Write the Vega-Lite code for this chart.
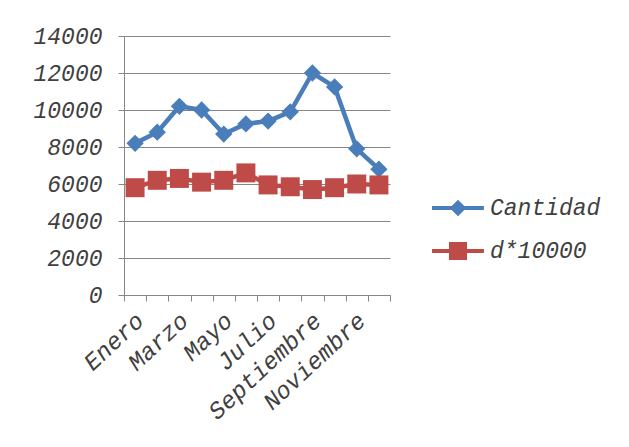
{
  "$schema": "https://vega.github.io/schema/vega-lite/v6.json",
  "width": 266,
  "height": 259,
  "autosize": {"type": "none"},
  "padding": {"left": 124, "top": 36, "right": 239, "bottom": 152},
  "background": "white",
  "data": {
    "values": [
      {"mes": "Enero", "serie": "Cantidad", "valor": 8200},
      {"mes": "Febrero", "serie": "Cantidad", "valor": 8800},
      {"mes": "Marzo", "serie": "Cantidad", "valor": 10200},
      {"mes": "Abril", "serie": "Cantidad", "valor": 10000},
      {"mes": "Mayo", "serie": "Cantidad", "valor": 8700},
      {"mes": "Junio", "serie": "Cantidad", "valor": 9250},
      {"mes": "Julio", "serie": "Cantidad", "valor": 9400},
      {"mes": "Agosto", "serie": "Cantidad", "valor": 9900},
      {"mes": "Septiembre", "serie": "Cantidad", "valor": 12000},
      {"mes": "Octubre", "serie": "Cantidad", "valor": 11250},
      {"mes": "Noviembre", "serie": "Cantidad", "valor": 7900},
      {"mes": "Diciembre", "serie": "Cantidad", "valor": 6800},
      {"mes": "Enero", "serie": "d*10000", "valor": 5800},
      {"mes": "Febrero", "serie": "d*10000", "valor": 6200},
      {"mes": "Marzo", "serie": "d*10000", "valor": 6300},
      {"mes": "Abril", "serie": "d*10000", "valor": 6100},
      {"mes": "Mayo", "serie": "d*10000", "valor": 6200},
      {"mes": "Junio", "serie": "d*10000", "valor": 6600},
      {"mes": "Julio", "serie": "d*10000", "valor": 5950},
      {"mes": "Agosto", "serie": "d*10000", "valor": 5850},
      {"mes": "Septiembre", "serie": "d*10000", "valor": 5700},
      {"mes": "Octubre", "serie": "d*10000", "valor": 5800},
      {"mes": "Noviembre", "serie": "d*10000", "valor": 6000},
      {"mes": "Diciembre", "serie": "d*10000", "valor": 5950}
    ]
  },
  "encoding": {
    "x": {
      "field": "mes",
      "type": "nominal",
      "sort": ["Enero", "Febrero", "Marzo", "Abril", "Mayo", "Junio", "Julio", "Agosto", "Septiembre", "Octubre", "Noviembre", "Diciembre"],
      "scale": {"type": "band", "paddingInner": 0, "paddingOuter": 0},
      "axis": {
        "title": null,
        "tickBand": "extent",
        "labelExpr": "indexof(['Enero','Marzo','Mayo','Julio','Septiembre','Noviembre'], datum.value) >= 0 ? datum.value : ''",
        "labelAngle": -43,
        "labelAlign": "right",
        "labelBaseline": "middle",
        "labelPadding": 16,
        "labelOffset": 5,
        "labelOverlap": false,
        "labelFontSize": 24,
        "tickSize": 6
      }
    },
    "y": {
      "field": "valor",
      "type": "quantitative",
      "scale": {"domain": [0, 14000], "nice": false},
      "axis": {
        "title": null,
        "values": [0, 2000, 4000, 6000, 8000, 10000, 12000, 14000],
        "format": "d",
        "grid": true,
        "tickSize": 6,
        "labelPadding": 16
      }
    },
    "color": {
      "field": "serie",
      "type": "nominal",
      "sort": ["Cantidad", "d*10000"],
      "scale": {"domain": ["Cantidad", "d*10000"], "range": ["#4A7EBB", "#BE4B48"]}
    }
  },
  "layer": [
    {
      "mark": {"type": "line", "strokeWidth": 4.5, "strokeJoin": "round", "strokeCap": "round"},
      "encoding": {
        "color": {
          "field": "serie",
          "type": "nominal",
          "sort": ["Cantidad", "d*10000"],
          "scale": {"domain": ["Cantidad", "d*10000"], "range": ["#4A7EBB", "#BE4B48"]},
          "legend": {
            "title": null,
            "orient": "none",
            "legendX": 319,
            "legendY": 157,
            "padding": 0,
            "symbolSize": 900,
            "symbolStrokeWidth": 0,
            "rowPadding": 16,
            "labelOffset": 17,
            "labelFont": "Liberation Mono",
            "labelFontSize": 23,
            "labelFontStyle": "italic",
            "labelColor": "#404040",
            "encode": {
              "symbols": {
                "update": {
                  "shape": {"signal": "datum.value === 'Cantidad' ? 'M-1.73,-0.14H1.73V0.14H-1.73Z M0,-0.55L0.55,0L0,0.55L-0.55,0Z' : 'M-1.73,-0.14H1.73V0.14H-1.73Z M-0.6,-0.6H0.6V0.6H-0.6Z'"},
                  "fill": {"signal": "datum.value === 'Cantidad' ? '#4A7EBB' : '#BE4B48'"},
                  "fillOpacity": {"value": 1},
                  "strokeWidth": {"value": 0}
                }
              }
            }
          }
        }
      }
    },
    {
      "mark": {"type": "point", "filled": true, "opacity": 1},
      "encoding": {
        "color": {
          "field": "serie",
          "type": "nominal",
          "scale": {"domain": ["Cantidad", "d*10000"], "range": ["#4A7EBB", "#BE4B48"]},
          "legend": null
        },
        "shape": {
          "condition": {"test": "datum.serie === 'Cantidad'", "value": "diamond"},
          "value": "square"
        },
        "size": {
          "condition": {"test": "datum.serie === 'Cantidad'", "value": 300},
          "value": 360
        }
      }
    }
  ],
  "config": {
    "view": {"stroke": null},
    "font": "Liberation Mono",
    "axis": {
      "labelFont": "Liberation Mono",
      "labelFontSize": 23,
      "labelFontStyle": "italic",
      "labelColor": "#404040",
      "domainColor": "#868686",
      "tickColor": "#868686",
      "gridColor": "#868686",
      "domainWidth": 1,
      "tickWidth": 1,
      "gridWidth": 1
    }
  }
}
